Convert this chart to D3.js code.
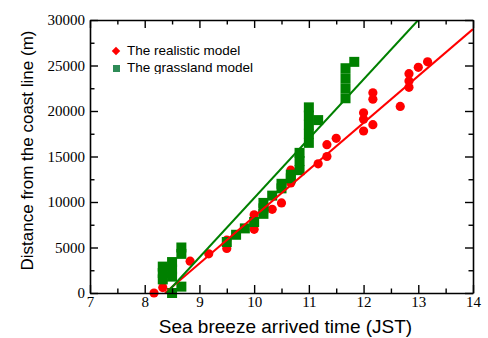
<!DOCTYPE html>
<html>
<head>
<meta charset="utf-8">
<script src="https://cdn.jsdelivr.net/npm/d3@7"></script>
<style>
  body { margin: 0; background: #fff; }
  svg { display: block; }
</style>
</head>
<body>
<div id="vis"></div>
<script>
// sea breeze arrival time (h, JST) and distance from the coast (m)
const realisticX = [8.17, 8.33, 8.5, 8.5, 8.83, 9.17, 9.5, 9.5, 10.0, 10.0, 10.33, 10.5, 10.67, 10.67,
                    11.17, 11.33, 11.33, 11.5, 12.0, 12.0, 12.0, 12.17, 12.17, 12.17, 12.67,
                    12.83, 12.83, 12.83, 13.0, 13.17];
const realisticY = [0, 600, 2200, 2800, 3500, 4300, 4900, 5800, 7000, 8600, 9200, 9900, 12100, 13500,
                    14200, 15000, 16300, 17000, 17800, 19100, 19800, 18500, 21300, 22000, 20500,
                    22600, 23300, 24100, 24800, 25400];

const grasslandX = [8.33, 8.33, 8.33, 8.5, 8.5, 8.5, 8.5, 8.67, 8.67, 8.67,
                    9.5, 9.67, 9.83, 10.0, 10.17, 10.17, 10.17, 10.33, 10.5, 10.5,
                    10.67, 10.67, 10.83, 10.83, 10.83, 11.0, 11.0, 11.0, 11.0, 11.0,
                    11.17, 11.67, 11.67, 11.67, 11.67, 11.83];
const grasslandY = [1500, 2200, 2900, 0, 1800, 2600, 3400, 700, 4300, 5000,
                    5600, 6400, 7100, 7800, 8700, 9300, 9900, 10700, 11500, 12000,
                    12600, 13000, 13500, 14500, 15400, 16500, 17500, 18500, 19500, 20400,
                    19000, 21400, 22500, 23600, 24700, 25400];

// fitted lines, as two end points each
const realisticFit = [[8.37, 0], [14, 29000]];
const grasslandFit = [[8.4, 0], [13.0, 30000]];

const xTicks = [7, 8, 9, 10, 11, 12, 13, 14];
const yTicks = [0, 5000, 10000, 15000, 20000, 25000, 30000];
const legendLabels = ["The realistic model", "The grassland model"];

const ctx = {
    w: 488,
    h: 338,
    left: 90,
    right: 473,
    top: 20,
    bottom: 293,
    red: "#ff0000",
    green: "#008000"
};

function createViz() {
    const svg = d3.select("#vis").append("svg")
        .attr("width", ctx.w)
        .attr("height", ctx.h);

    const xScale = d3.scaleLinear().domain([7, 14]).range([ctx.left, ctx.right]);
    const yScale = d3.scaleLinear().domain([0, 30000]).range([ctx.bottom, ctx.top]);

    const defs = svg.append("defs");
    defs.append("clipPath").attr("id", "plotClip")
       .append("rect")
       .attr("x", ctx.left).attr("y", ctx.top)
       .attr("width", ctx.right - ctx.left).attr("height", ctx.bottom - ctx.top);
    // the legend box cuts off the descenders of its last line
    defs.append("clipPath").attr("id", "legClip")
       .append("rect")
       .attr("x", 100).attr("y", 30).attr("width", 200).attr("height", 44);

    // points
    const realistic = realisticX.map((x, i) => ({x: x, y: realisticY[i]}));
    const grassland = grasslandX.map((x, i) => ({x: x, y: grasslandY[i]}));

    svg.append("g").selectAll("circle")
       .data(realistic)
       .enter()
       .append("circle")
       .attr("cx", d => xScale(d.x))
       .attr("cy", d => yScale(d.y))
       .attr("r", 4.6)
       .style("fill", ctx.red);

    svg.append("g").selectAll("rect")
       .data(grassland)
       .enter()
       .append("rect")
       .attr("x", d => xScale(d.x) - 5)
       .attr("y", d => yScale(d.y) - 5)
       .attr("width", 10)
       .attr("height", 10)
       .style("fill", ctx.green);

    // fit lines
    const line = d3.line().x(d => xScale(d[0])).y(d => yScale(d[1]));
    const linesG = svg.append("g").attr("clip-path", "url(#plotClip)");
    linesG.append("path").attr("d", line(realisticFit))
          .style("fill", "none").style("stroke", ctx.red).style("stroke-width", 2);
    linesG.append("path").attr("d", line(grasslandFit))
          .style("fill", "none").style("stroke", ctx.green).style("stroke-width", 2);

    // axes, ticks inward on all four sides
    const xMinor = d3.range(7.5, 14, 1);
    const yMinor = d3.range(2500, 30000, 5000);
    const axes = [
        {axis: d3.axisBottom(xScale), tr: `translate(0,${ctx.bottom})`, t: xTicks, m: xMinor, labels: true, pad: 3},
        {axis: d3.axisTop(xScale), tr: `translate(0,${ctx.top})`, t: xTicks, m: xMinor, labels: false, pad: 3},
        {axis: d3.axisLeft(yScale), tr: `translate(${ctx.left},0)`, t: yTicks, m: yMinor, labels: true, pad: 5},
        {axis: d3.axisRight(yScale), tr: `translate(${ctx.right},0)`, t: yTicks, m: yMinor, labels: false, pad: 5}
    ];
    axes.forEach(a => {
        const g = svg.append("g").attr("transform", a.tr)
            .call(a.axis.tickValues(a.t).tickSizeInner(-8).tickSizeOuter(0).tickPadding(a.pad)
                  .tickFormat(a.labels ? d3.format("d") : ""));
        g.select(".domain").style("stroke", "#000").style("stroke-width", 1.6);
        g.selectAll(".tick line").style("stroke", "#000").style("stroke-width", 1.4);
        g.selectAll("text")
         .style("font-family", "'Liberation Serif', 'Times New Roman', serif")
         .style("font-size", "15px")
         .style("fill", "#000");
        const mg = svg.append("g").attr("transform", a.tr)
            .call(a.axis.tickValues(a.m).tickSizeInner(-4.5).tickSizeOuter(0).tickFormat(""));
        mg.select(".domain").remove();
        mg.selectAll(".tick line").style("stroke", "#000").style("stroke-width", 1.4);
    });

    // axis titles
    svg.append("text")
       .attr("x", (ctx.left + ctx.right) / 2 + 4)
       .attr("y", 333)
       .style("text-anchor", "middle")
       .style("font-family", "'Liberation Sans', Arial, sans-serif")
       .style("font-size", "19px")
       .text("Sea breeze arrived time (JST)");

    svg.append("text")
       .attr("transform", `translate(33,${(ctx.top + ctx.bottom) / 2 - 6}) rotate(-90)`)
       .style("text-anchor", "middle")
       .style("font-family", "'Liberation Sans', Arial, sans-serif")
       .style("font-size", "17px")
       .text("Distance from the coast line (m)");

    // legend
    const legend = svg.append("g").attr("clip-path", "url(#legClip)");
    legend.append("rect")
          .attr("x", -3).attr("y", -3).attr("width", 6).attr("height", 6)
          .attr("transform", "translate(116,51) rotate(45)")
          .style("fill", ctx.red);
    legend.append("rect")
          .attr("x", 113).attr("y", 65).attr("width", 7).attr("height", 7)
          .style("fill", "#2e8b57");
    legend.selectAll("text.leg")
          .data(legendLabels)
          .enter()
          .append("text")
          .attr("class", "leg")
          .attr("x", 127)
          .attr("y", (d, i) => 55 + i * 17)
          .style("font-family", "'Liberation Sans', Arial, sans-serif")
          .style("font-size", "13.5px")
          .text(d => d);
}

createViz();
</script>
</body>
</html>
